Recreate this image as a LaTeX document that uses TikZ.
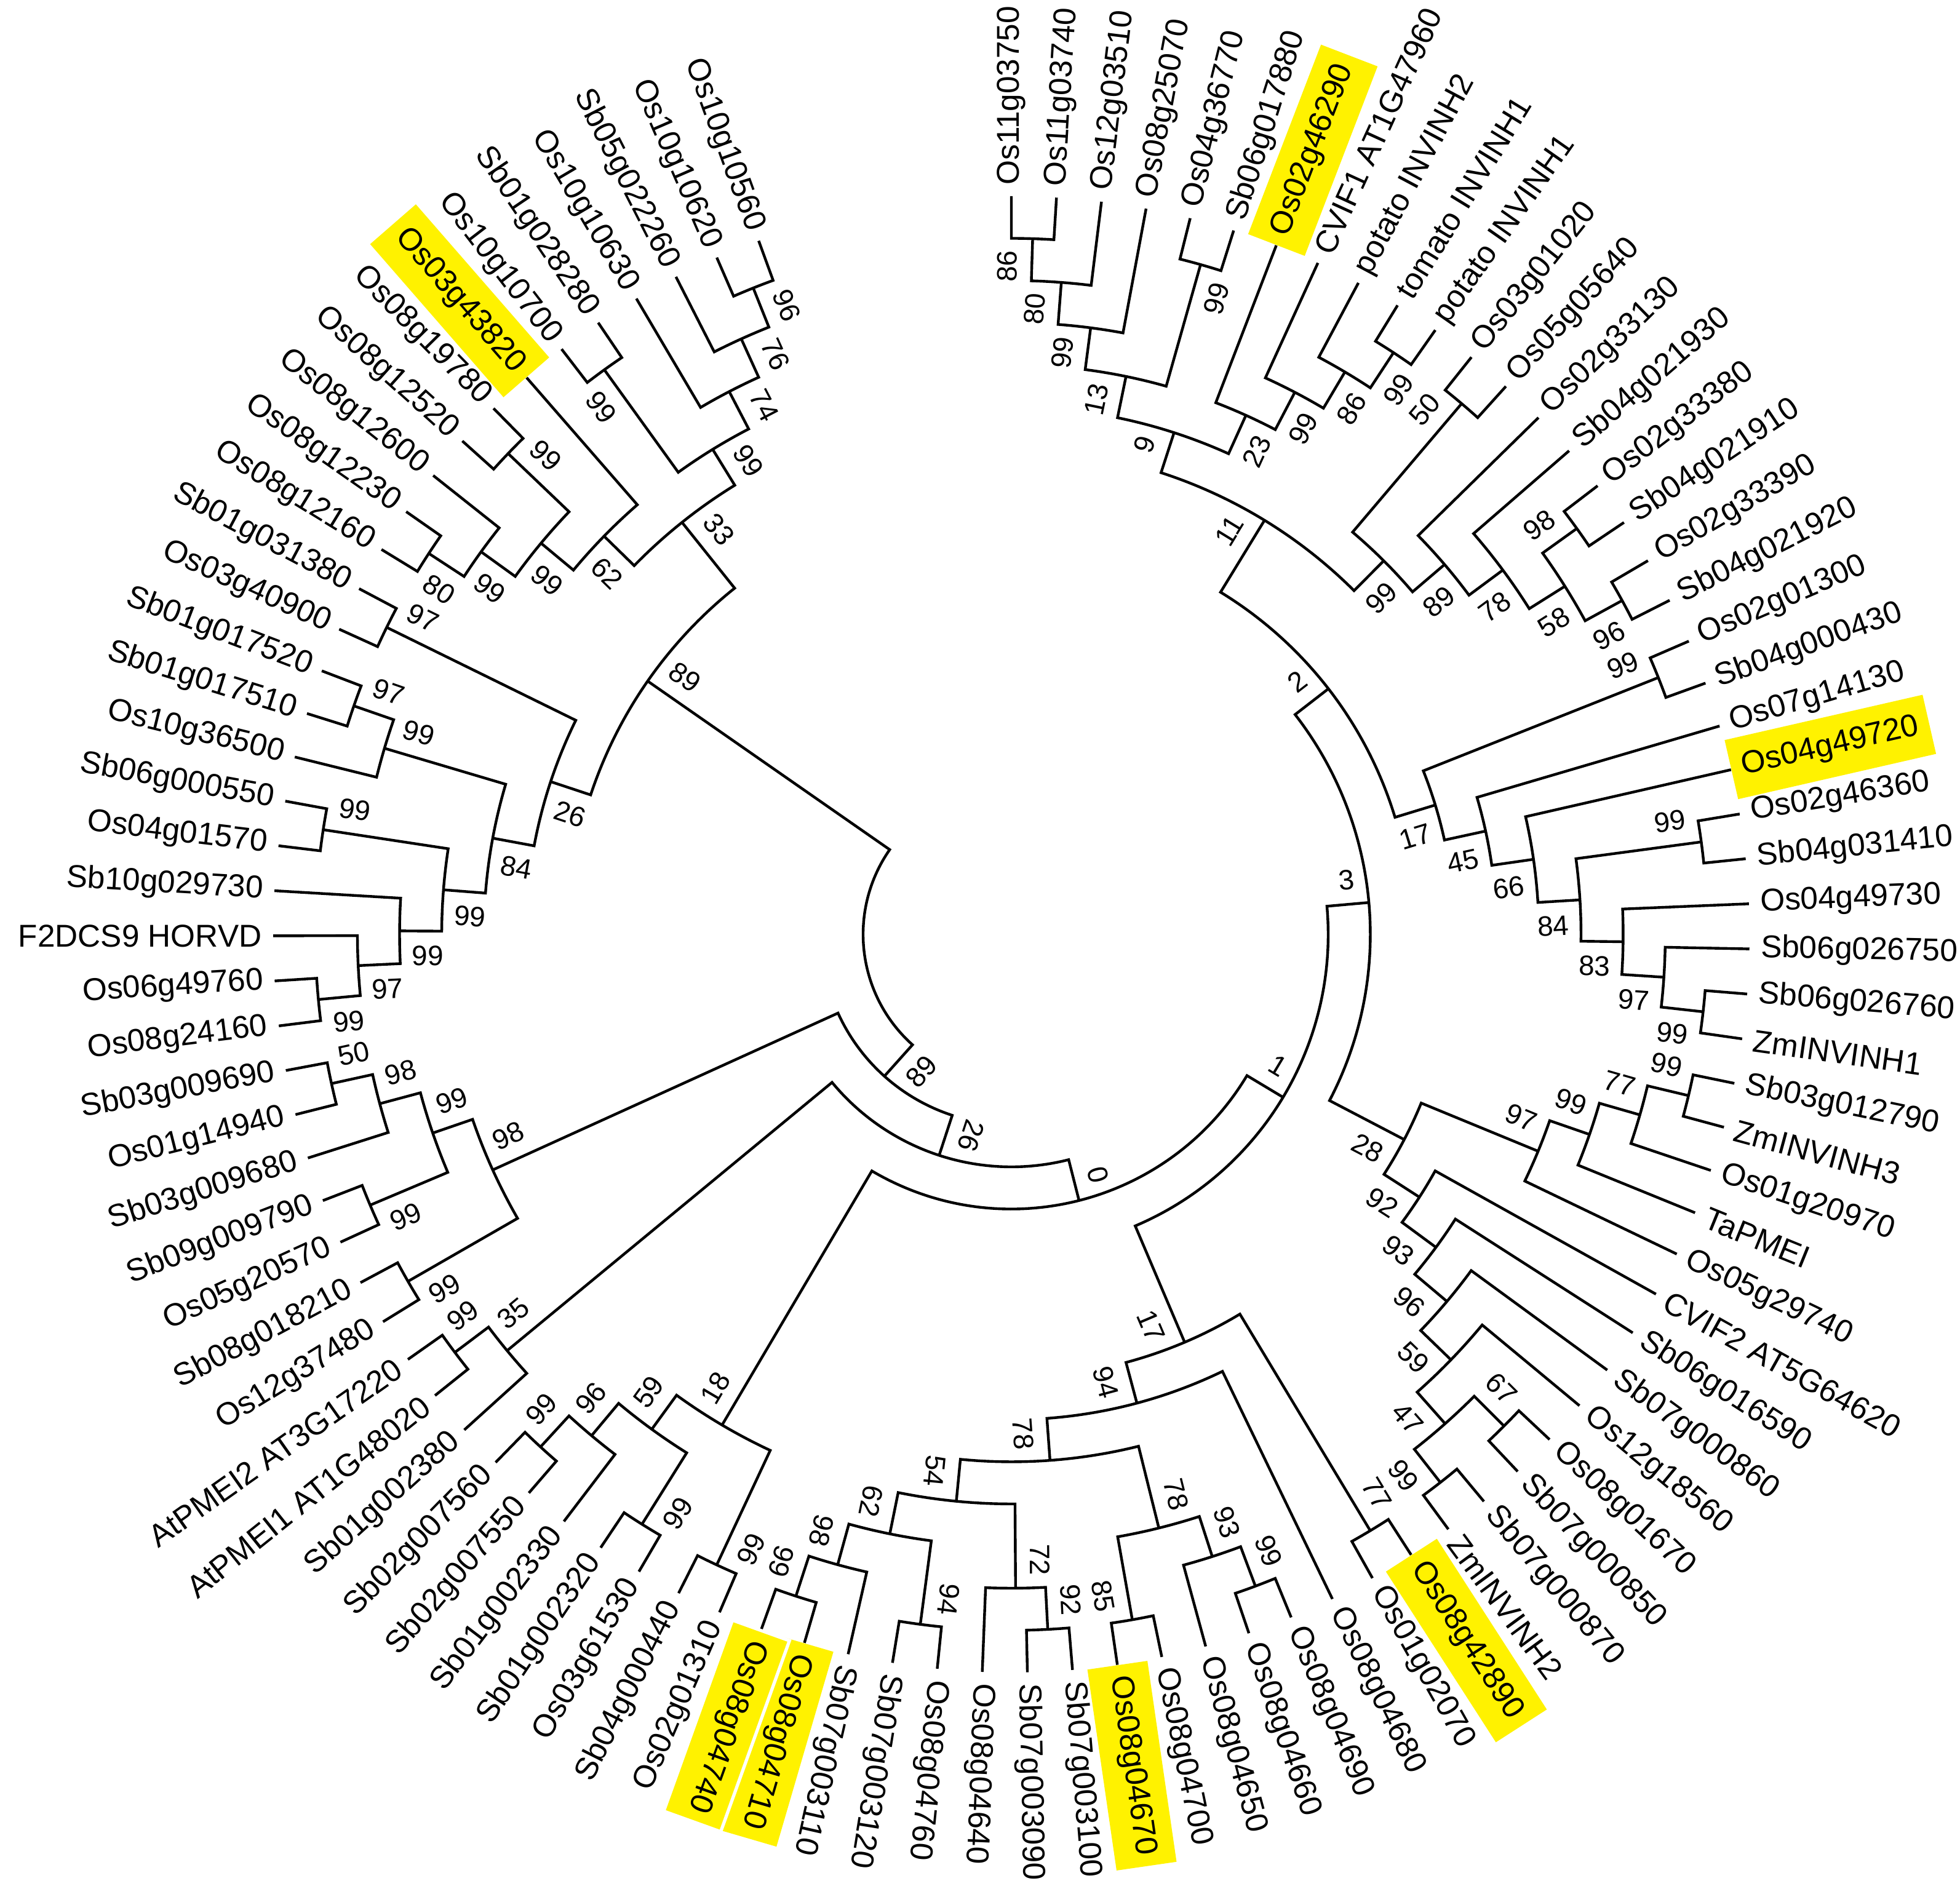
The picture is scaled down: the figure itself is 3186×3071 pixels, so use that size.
\documentclass[tikz,border=0pt]{standalone}
\usepackage{fontspec}
\setmainfont{Liberation Sans}
\usetikzlibrary{calc}
\newcommand\trRT{1200}
\newcommand\trDH{68.5}
\newcommand\trST{3.505}
\newif\iftrunflip
\newcommand\trsetflip[1]{%
  \pgfmathsetmacro\trnang{mod(#1+540,360)-180}%
  \trunflipfalse
  \ifdim\trnang pt>-111.5pt\relax\ifdim\trnang pt<100pt\relax\trunfliptrue\fi\fi
  \iftrunflip\pgfmathsetmacro\trrot{\trnang}\else\pgfmathsetmacro\trrot{\trnang+180}\fi}
\newcommand\trleafdef[2]{%
  \pgfmathsetmacro\trlang{90-(#2-1)*\trST}%
  \expandafter\xdef\csname ang@#1\endcsname{\trlang}%
  \expandafter\xdef\csname rad@#1\endcsname{\trRT}%
  \expandafter\gdef\csname bs@#1\endcsname{}%
  \coordinate (n-#1) at (\trlang:\trRT);%
  \trsetflip{\trlang}%
  \iftrunflip\def\tranc{west}\else\def\tranc{east}\fi}
\newcommand\trleaf[3]{\trleafdef{#1}{#2}%
  \pgfmathsetmacro\trlr{\trRT+18}%
  \node[leaflbl,rotate=\trrot,anchor=\tranc] (t-#1) at (\trlang:\trlr) {#3};}
\newcommand\trhleaf[4][]{\trleafdef{#2}{#3}%
  \pgfmathsetmacro\trlr{\trRT+0}%
  \node[leaflbl,hl,#1,rotate=\trrot,anchor=\tranc] (t-#2) at (\trlang:\trlr) {#4};}
\newcommand\trbs[2]{% child id, side (+1 ccw / -1 cw)
  \edef\trtl{\csname bs@#1\endcsname}%
  \ifx\trtl\empty\else
    \edef\trta{\csname ang@#1\endcsname}%
    \edef\trtr{\csname rad@#1\endcsname}%
    \pgfmathsetmacro\trtrr{\trtr-20}%
    \pgfmathsetmacro\trtt{\trta+#2*90}%
    \trsetflip{\trta}%
    \iftrunflip\def\trbanc{east}\else\def\trbanc{west}\fi
    \node[bslbl,rotate=\trrot,anchor=\trbanc] (b-#1) at ($(\trta:\trtrr)+(\trtt:40)$) {\trtl};%
  \fi}
\newcommand\trnode[5]{% id, child1, child2, height, label
  \edef\trA{\csname ang@#2\endcsname}%
  \edef\trB{\csname ang@#3\endcsname}%
  \pgfmathsetmacro\trAng{(\trA+\trB)/2}%
  \pgfmathsetmacro\trRad{\trRT-#4*\trDH}%
  \pgfmathsetmacro\trRcm{\trRad*0.01}%
  \expandafter\xdef\csname ang@#1\endcsname{\trAng}%
  \expandafter\xdef\csname rad@#1\endcsname{\trRad}%
  \expandafter\gdef\csname bs@#1\endcsname{#5}%
  \coordinate (n-#1) at (\trAng:\trRad);%
  \coordinate (a-#2) at (\trA:\trRad);%
  \coordinate (a-#3) at (\trB:\trRad);%
  \draw[branch] (n-#2) -- (a-#2) arc[start angle=\trA, end angle=\trB, radius=\trRcm cm] -- (n-#3);%
  \ifdim\trA pt>\trB pt\relax
    \trbs{#2}{1}\trbs{#3}{-1}%
  \else
    \trbs{#2}{-1}\trbs{#3}{1}%
  \fi}
\tikzset{
  branch/.style={line width=1.25pt, line join=miter},
  leaflbl/.style={font=\fontsize{14.6}{16}\selectfont, inner sep=0pt},
  bslbl/.style={font=\fontsize{13}{15}\selectfont, inner sep=0pt},
  hl/.style={fill=yellow, inner xsep=0.18cm, inner ysep=0.26cm},
  hlsep/.style={draw=white, line width=1.5pt}
}
\begin{document}
\begin{tikzpicture}[x=0.01cm,y=0.01cm]
\useasboundingbox (-1644,-1552) rectangle (1542,1519);
\trleaf{L1}{1}{Os11g03750}
\trleaf{L2}{2}{Os11g03740}
\trleaf{L3}{3}{Os12g03510}
\trleaf{L4}{4}{Os08g25070}
\trleaf{L5}{5}{Os04g36770}
\trleaf{L6}{6}{Sb06g017880}
\trhleaf{L7}{7}{Os02g46290}
\trleaf{L8}{8}{CVIF1 AT1G47960}
\trleaf{L9}{9}{potato INVINH2}
\trleaf{L10}{10}{tomato INVINH1}
\trleaf{L11}{11}{potato INVINH1}
\trleaf{L12}{12}{Os03g01020}
\trleaf{L13}{13}{Os05g05640}
\trleaf{L14}{14}{Os02g33130}
\trleaf{L15}{15}{Sb04g021930}
\trleaf{L16}{16}{Os02g33380}
\trleaf{L17}{17}{Sb04g021910}
\trleaf{L18}{18}{Os02g33390}
\trleaf{L19}{19}{Sb04g021920}
\trleaf{L20}{20}{Os02g01300}
\trleaf{L21}{21}{Sb04g000430}
\trleaf{L22}{22}{Os07g14130}
\trhleaf{L23}{23}{Os04g49720}
\trleaf{L24}{24}{Os02g46360}
\trleaf{L25}{25}{Sb04g031410}
\trleaf{L26}{26}{Os04g49730}
\trleaf{L27}{27}{Sb06g026750}
\trleaf{L28}{28}{Sb06g026760}
\trleaf{L29}{29}{ZmINVINH1}
\trleaf{L30}{30}{Sb03g012790}
\trleaf{L31}{31}{ZmINVINH3}
\trleaf{L32}{32}{Os01g20970}
\trleaf{L33}{33}{TaPMEI}
\trleaf{L34}{34}{Os05g29740}
\trleaf{L35}{35}{CVIF2 AT5G64620}
\trleaf{L36}{36}{Sb06g016590}
\trleaf{L37}{37}{Sb07g000860}
\trleaf{L38}{38}{Os12g18560}
\trleaf{L39}{39}{Os08g01670}
\trleaf{L40}{40}{Sb07g000850}
\trleaf{L41}{41}{Sb07g000870}
\trleaf{L42}{42}{ZmINVINH2}
\trhleaf{L43}{43}{Os08g42890}
\trleaf{L44}{44}{Os01g02070}
\trleaf{L45}{45}{Os08g04680}
\trleaf{L46}{46}{Os08g04690}
\trleaf{L47}{47}{Os08g04660}
\trleaf{L48}{48}{Os08g04650}
\trleaf{L49}{49}{Os08g04700}
\trhleaf{L50}{50}{Os08g04670}
\trleaf{L51}{51}{Sb07g003100}
\trleaf{L52}{52}{Sb07g003090}
\trleaf{L53}{53}{Os08g04640}
\trleaf{L54}{54}{Os08g04760}
\trleaf{L55}{55}{Sb07g003120}
\trleaf{L56}{56}{Sb07g003110}
\trhleaf{L57}{57}{Os08g04710}
\trhleaf[hlsep]{L58}{58}{Os08g04740}
\trleaf{L59}{59}{Os02g01310}
\trleaf{L60}{60}{Sb04g000440}
\trleaf{L61}{61}{Os03g61530}
\trleaf{L62}{62}{Sb01g002320}
\trleaf{L63}{63}{Sb01g002330}
\trleaf{L64}{64}{Sb02g007550}
\trleaf{L65}{65}{Sb02g007560}
\trleaf{L66}{66}{Sb01g002380}
\trleaf{L67}{67}{AtPMEI1 AT1G48020}
\trleaf{L68}{68}{AtPMEI2 AT3G17220}
\trleaf{L69}{69}{Os12g37480}
\trleaf{L70}{70}{Sb08g018210}
\trleaf{L71}{71}{Os05g20570}
\trleaf{L72}{72}{Sb09g009790}
\trleaf{L73}{73}{Sb03g009680}
\trleaf{L74}{74}{Os01g14940}
\trleaf{L75}{75}{Sb03g009690}
\trleaf{L76}{76}{Os08g24160}
\trleaf{L77}{77}{Os06g49760}
\trleaf{L78}{78}{F2DCS9 HORVD}
\trleaf{L79}{79}{Sb10g029730}
\trleaf{L80}{80}{Os04g01570}
\trleaf{L81}{81}{Sb06g000550}
\trleaf{L82}{82}{Os10g36500}
\trleaf{L83}{83}{Sb01g017510}
\trleaf{L84}{84}{Sb01g017520}
\trleaf{L85}{85}{Os03g40900}
\trleaf{L86}{86}{Sb01g031380}
\trleaf{L87}{87}{Os08g12160}
\trleaf{L88}{88}{Os08g12230}
\trleaf{L89}{89}{Os08g12600}
\trleaf{L90}{90}{Os08g12520}
\trleaf{L91}{91}{Os08g19780}
\trhleaf{L92}{92}{Os03g43820}
\trleaf{L93}{93}{Os10g10700}
\trleaf{L94}{94}{Sb01g028280}
\trleaf{L95}{95}{Os10g10630}
\trleaf{L96}{96}{Sb05g022260}
\trleaf{L97}{97}{Os10g10620}
\trleaf{L98}{98}{Os10g10560}
\trnode{N86a}{L1}{L2}{1}{86}
\trnode{N80}{N86a}{L3}{2}{80}
\trnode{N99a}{N80}{L4}{3}{99}
\trnode{N99b}{L5}{L6}{1}{99}
\trnode{N13}{N99a}{N99b}{4}{13}
\trnode{N99c}{L10}{L11}{1}{99}
\trnode{N86b}{L9}{N99c}{2}{86}
\trnode{N99d}{L8}{N86b}{3}{99}
\trnode{N23}{L7}{N99d}{4}{23}
\trnode{N9}{N13}{N23}{5}{9}
\trnode{N50}{L12}{L13}{1}{50}
\trnode{N98a}{L16}{L17}{1}{98}
\trnode{N96}{L18}{L19}{1}{96}
\trnode{N58}{N98a}{N96}{2}{58}
\trnode{N78}{L15}{N58}{3}{78}
\trnode{N89}{L14}{N78}{4}{89}
\trnode{N99e}{N50}{N89}{5}{99}
\trnode{N11}{N9}{N99e}{6}{11}
\trnode{N99f}{L20}{L21}{1}{99}
\trnode{N99g}{L24}{L25}{1}{99}
\trnode{N99h}{L28}{L29}{1}{99}
\trnode{N97}{L27}{N99h}{2}{97}
\trnode{N83}{L26}{N97}{3}{83}
\trnode{N84}{N99g}{N83}{4}{84}
\trnode{N66}{L23}{N84}{5}{66}
\trnode{N45}{L22}{N66}{6}{45}
\trnode{N17}{N99f}{N45}{7}{17}
\trnode{N2}{N11}{N17}{8}{2}
\trnode{N99i}{L30}{L31}{1}{99}
\trnode{N77}{N99i}{L32}{2}{77}
\trnode{N99j}{N77}{L33}{3}{99}
\trnode{N97b}{N99j}{L34}{4}{97}
\trnode{N67}{L39}{L40}{1}{67}
\trnode{N99k}{L41}{L42}{1}{99}
\trnode{N47}{N67}{N99k}{2}{47}
\trnode{N59}{L38}{N47}{3}{59}
\trnode{N96b}{L37}{N59}{4}{96}
\trnode{N93}{L36}{N96b}{5}{93}
\trnode{N92}{L35}{N93}{6}{92}
\trnode{N28}{N97b}{N92}{7}{28}
\trnode{N3}{N2}{N28}{9}{3}
\trnode{N77b}{L43}{L44}{1}{77}
\trnode{N99l}{L46}{L47}{1}{99}
\trnode{N93b}{N99l}{L48}{2}{93}
\trnode{N85}{L49}{L50}{1}{85}
\trnode{N78b}{N93b}{N85}{3}{78}
\trnode{N92b}{L51}{L52}{1}{92}
\trnode{N72}{N92b}{L53}{2}{72}
\trnode{N94b}{L54}{L55}{1}{94}
\trnode{N99m}{L57}{L58}{1}{99}
\trnode{N98b}{L56}{N99m}{2}{98}
\trnode{N62}{N94b}{N98b}{3}{62}
\trnode{N54}{N72}{N62}{4}{54}
\trnode{N78a}{N78b}{N54}{5}{78}
\trnode{N94}{L45}{N78a}{6}{94}
\trnode{N17b}{N77b}{N94}{7}{17}
\trnode{N1}{N3}{N17b}{10}{1}
\trnode{N99n}{L59}{L60}{1}{99}
\trnode{N99o}{L61}{L62}{1}{99}
\trnode{N99p}{L64}{L65}{1}{99}
\trnode{N96c}{L63}{N99p}{2}{96}
\trnode{N59b}{N99o}{N96c}{3}{59}
\trnode{N18}{N99n}{N59b}{4}{18}
\trnode{N0a}{N1}{N18}{11}{0}
\trnode{N99q}{L67}{L68}{1}{99}
\trnode{N35}{L66}{N99q}{2}{35}
\trnode{ND}{N0a}{N35}{12}{26}
\trnode{N99r}{L69}{L70}{1}{99}
\trnode{N99s}{L71}{L72}{1}{99}
\trnode{N50b}{L74}{L75}{1}{50}
\trnode{N98c}{L73}{N50b}{2}{98}
\trnode{N99t}{N99s}{N98c}{3}{99}
\trnode{N98d}{N99r}{N99t}{4}{98}
\trnode{N13x}{ND}{N98d}{13}{89}
\trnode{N99y}{L76}{L77}{1}{99}
\trnode{N97w}{N99y}{L78}{2}{97}
\trnode{N99x}{N97w}{L79}{3}{99}
\trnode{N99w}{L80}{L81}{1}{99}
\trnode{N99v}{N99x}{N99w}{4}{99}
\trnode{N97v}{L83}{L84}{1}{97}
\trnode{N99u}{L82}{N97v}{2}{99}
\trnode{N84u}{N99v}{N99u}{5}{84}
\trnode{N97u}{L85}{L86}{1}{97}
\trnode{N26}{N84u}{N97u}{6}{26}
\trnode{N80u}{L87}{L88}{1}{80}
\trnode{N99aa}{N80u}{L89}{2}{99}
\trnode{N99z}{L90}{L91}{1}{99}
\trnode{N99ab}{N99aa}{N99z}{3}{99}
\trnode{N62u}{N99ab}{L92}{4}{62}
\trnode{N99ad}{L93}{L94}{1}{99}
\trnode{N96u}{L97}{L98}{1}{96}
\trnode{N76}{L96}{N96u}{2}{76}
\trnode{N74}{L95}{N76}{3}{74}
\trnode{N99ac}{N99ad}{N74}{4}{99}
\trnode{N33}{N62u}{N99ac}{5}{33}
\trnode{N89u}{N26}{N33}{7}{89}
\trnode{Root}{N13x}{N89u}{14}{}
\end{tikzpicture}
\end{document}
